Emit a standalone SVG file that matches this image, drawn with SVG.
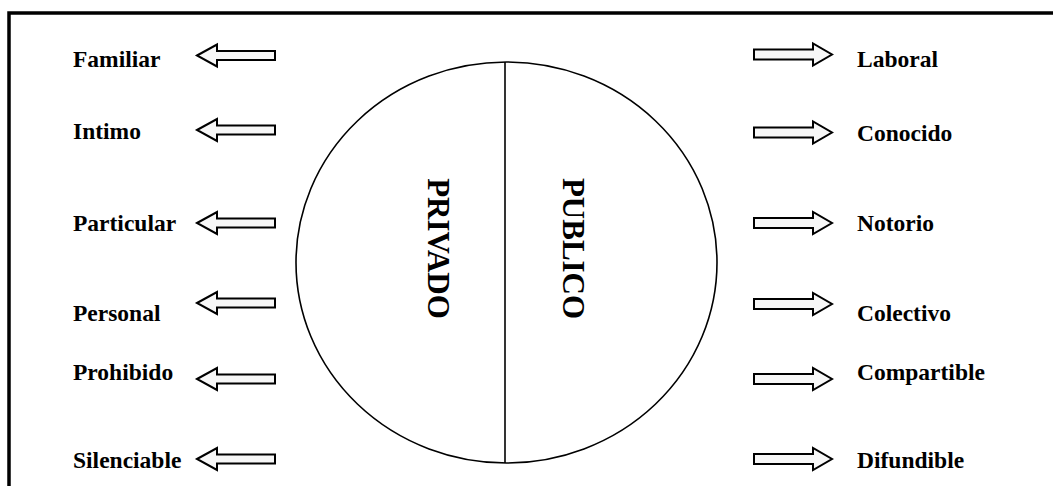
<svg xmlns="http://www.w3.org/2000/svg" width="1053" height="486" viewBox="0 0 1053 486">
<style>
.lbl{font-family:"Liberation Serif","Times New Roman",serif;font-weight:bold;font-size:23.5px;fill:#000}
.big{font-family:"Liberation Serif","Times New Roman",serif;font-weight:bold;font-size:31px;fill:#000}
.arr{fill:#f7f7f7;stroke:#000;stroke-width:2;stroke-linejoin:miter}
</style>
<defs>
<path id="la" class="arr" d="M0,0 L20,-11 L20,-4.5 L78,-4.5 L78,4.5 L20,4.5 L20,11 Z"/>
<path id="ra" class="arr" d="M0,-5 L59,-5 L59,-11 L78,0 L59,11 L59,5 L0,5 Z"/>
</defs>
<rect x="9" y="13" width="1100" height="500" fill="#fff" stroke="#000" stroke-width="3.5"/>
<g id="circle">
<ellipse cx="506.5" cy="262.5" rx="210.5" ry="200.5" fill="#fff" stroke="#000" stroke-width="1.6"/>
<line x1="505" y1="62" x2="505" y2="463" stroke="#000" stroke-width="1.6"/>
<text class="big" text-anchor="middle" transform="translate(428,248.5) rotate(90)">PRIVADO</text>
<text class="big" text-anchor="middle" transform="translate(563,248.5) rotate(90)">PUBLICO</text>
</g>
<g id="connectors">
<use href="#la" x="197" y="55.5"/>
<use href="#la" x="197" y="130"/>
<use href="#la" x="197" y="223"/>
<use href="#la" x="197" y="303"/>
<use href="#la" x="197" y="379"/>
<use href="#la" x="197" y="459"/>
<use href="#ra" x="754" y="54.5"/>
<use href="#ra" x="754" y="132.5"/>
<use href="#ra" x="754" y="223"/>
<use href="#ra" x="754" y="304"/>
<use href="#ra" x="754" y="379"/>
<use href="#ra" x="754" y="459"/>
</g>
<g id="left-labels">
<text id="familiar" class="lbl" x="73" y="67">Familiar</text>
<text id="intimo" class="lbl" x="73" y="139">Intimo</text>
<text id="particular" class="lbl" x="73" y="231">Particular</text>
<text id="personal" class="lbl" x="73" y="321">Personal</text>
<text id="prohibido" class="lbl" x="73" y="380">Prohibido</text>
<text id="silenciable" class="lbl" x="73" y="468">Silenciable</text>
</g>
<g id="right-labels">
<text id="laboral" class="lbl" x="857" y="67">Laboral</text>
<text id="conocido" class="lbl" x="857" y="141">Conocido</text>
<text id="notorio" class="lbl" x="857" y="231">Notorio</text>
<text id="colectivo" class="lbl" x="857" y="321">Colectivo</text>
<text id="compartible" class="lbl" x="857" y="380">Compartible</text>
<text id="difundible" class="lbl" x="857" y="468">Difundible</text>
</g>
</svg>
